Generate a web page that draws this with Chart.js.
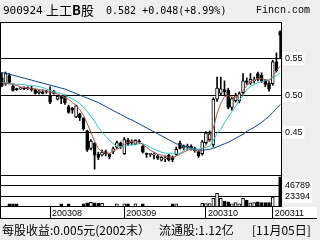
<!DOCTYPE html>
<html>
<head>
<meta charset="utf-8">
<script src="https://cdn.jsdelivr.net/npm/chart.js@4/dist/chart.umd.min.js"></script>
<style>
  html, body { margin: 0; padding: 0; width: 320px; height: 240px; overflow: hidden; background: #eeeeee; }
  #wrap { position: relative; width: 320px; height: 240px; }
  canvas { position: absolute; left: 0; top: 0; }
  .t { position: absolute; white-space: nowrap; color: #000; line-height: 1; }
</style>
</head>
<body>
<div id="wrap">
  <canvas id="chart-main" width="320" height="240"></canvas>
  <div class="t" style="left:3px;top:4px;font:11px 'DejaVu Sans Mono'">900924</div>
  <div class="t" style="left:46px;top:0px;font:13px 'Noto Sans CJK SC'">上工<b>B</b>股</div>
  <div class="t" style="left:106px;top:5px;font:10px 'DejaVu Sans Mono'">0.582 +0.048(+8.99%)</div>
  <div class="t" style="left:256px;top:5px;font:10px 'Liberation Mono'">Fincn.com</div>
  <div class="t" style="left:2px;top:221px;font:12px 'Noto Sans CJK SC'">每股收益:0.005元(2002末）</div>
  <div class="t" style="left:159px;top:221px;font:12px 'Noto Sans CJK SC'">流通股:1.12亿</div>
  <div class="t" style="left:252px;top:221px;font:12px 'Noto Sans CJK SC'">[11月05日]</div>
</div>
<script>
// daily candles, 2003-07-15 .. 2003-11-05
const opens = [0.524,0.516,0.527,0.513,0.509,0.509,0.510,0.509,0.510,0.508,
  0.504,0.505,0.506,0.500,0.503,0.495,0.499,0.500,0.485,0.483,
  0.471,0.475,0.469,0.452,0.428,0.435,0.420,0.419,0.424,0.420,
  0.424,0.430,0.435,0.421,0.439,0.436,0.434,0.438,0.431,0.421,
  0.420,0.419,0.418,0.412,0.414,0.419,0.416,0.420,0.435,0.429,
  0.430,0.431,0.428,0.424,0.421,0.436,0.440,0.433,0.495,0.503,
  0.508,0.507,0.484,0.493,0.493,0.504,0.520,0.517,0.520,0.530,
  0.528,0.520,0.517,0.516,0.546,0.587];
const highs = [0.531,0.532,0.530,0.515,0.510,0.511,0.512,0.512,0.513,0.509,
  0.507,0.508,0.507,0.512,0.507,0.500,0.500,0.501,0.487,0.484,
  0.487,0.476,0.470,0.453,0.440,0.436,0.423,0.426,0.426,0.421,
  0.430,0.438,0.437,0.443,0.442,0.440,0.440,0.440,0.433,0.422,
  0.421,0.422,0.420,0.417,0.418,0.420,0.418,0.430,0.438,0.433,
  0.434,0.433,0.430,0.425,0.439,0.451,0.452,0.497,0.525,0.525,
  0.520,0.510,0.498,0.503,0.505,0.530,0.524,0.530,0.525,0.532,
  0.531,0.522,0.519,0.548,0.558,0.588];
const lows = [0.512,0.514,0.516,0.506,0.507,0.508,0.508,0.508,0.506,0.502,
  0.502,0.502,0.503,0.489,0.502,0.494,0.489,0.488,0.476,0.476,
  0.470,0.466,0.453,0.424,0.426,0.400,0.413,0.418,0.418,0.414,
  0.421,0.428,0.428,0.420,0.432,0.433,0.433,0.435,0.422,0.416,
  0.417,0.414,0.413,0.411,0.410,0.411,0.410,0.419,0.427,0.426,
  0.427,0.426,0.423,0.416,0.419,0.434,0.438,0.430,0.492,0.501,
  0.500,0.482,0.480,0.491,0.490,0.502,0.515,0.515,0.517,0.520,
  0.518,0.512,0.506,0.514,0.532,0.550];
const closes = [0.513,0.530,0.518,0.507,0.508,0.510,0.509,0.511,0.508,0.503,
  0.506,0.503,0.505,0.491,0.506,0.499,0.496,0.490,0.477,0.480,
  0.486,0.470,0.455,0.426,0.438,0.419,0.416,0.423,0.421,0.417,
  0.428,0.436,0.432,0.440,0.434,0.438,0.439,0.437,0.423,0.420,
  0.420,0.420,0.415,0.416,0.415,0.412,0.413,0.427,0.428,0.431,
  0.430,0.428,0.425,0.418,0.437,0.449,0.448,0.495,0.510,0.509,
  0.505,0.484,0.496,0.500,0.503,0.520,0.518,0.522,0.521,0.522,
  0.520,0.515,0.509,0.546,0.534,0.582];

// moving averages as drawn
const ma5 = [0.518,0.516,0.516,0.515,0.5135,0.512,0.511,0.510,0.509,0.509,
  0.508,0.507,0.506,0.504,0.504,0.502,0.500,0.497,0.495,0.4905,
  0.4865,0.481,0.473,0.462,0.450,0.438,0.428,0.424,0.4216,0.4216,
  0.4243,0.427,0.4297,0.4338,0.4365,0.4378,0.4378,0.4365,0.4338,0.4297,
  0.4257,0.423,0.4203,0.419,0.4176,0.416,0.416,0.4176,0.4203,0.423,
  0.4257,0.4264,0.4257,0.4243,0.427,0.4324,0.4405,0.4554,0.4757,0.4892,
  0.4986,0.500,0.4973,0.4973,0.5014,0.5068,0.5135,0.519,0.5216,0.523,
  0.523,0.5216,0.520,0.5257,0.5338,0.540];
const ma10 = [0.5176,0.5176,0.5162,0.5162,0.515,0.515,0.515,0.5135,0.5135,0.5128,
  0.512,0.511,0.5088,0.5068,0.5054,0.504,0.5027,0.500,0.498,0.4953,
  0.4926,0.4892,0.4845,0.4784,0.4716,0.4649,0.4568,0.450,0.4446,0.4392,
  0.4345,0.431,0.4304,0.431,0.4324,0.4331,0.4338,0.4345,0.4345,0.4324,
  0.4297,0.427,0.425,0.423,0.4216,0.4216,0.4216,0.4216,0.4216,0.425,
  0.428,0.4277,0.427,0.427,0.4284,0.4297,0.431,0.4392,0.4486,0.454,
  0.4635,0.4703,0.4784,0.4851,0.4932,0.500,0.5081,0.5122,0.5149,0.5176,
  0.519,0.5203,0.5216,0.5243,0.527,0.531];
const ma30 = [0.5311,0.5304,0.529,0.5277,0.5264,0.525,0.5236,0.5223,0.521,0.5196,
  0.5182,0.5169,0.5155,0.5142,0.5128,0.5115,0.5101,0.5088,0.5068,0.5047,
  0.5027,0.5007,0.4986,0.4966,0.4946,0.4926,0.4905,0.4878,0.4851,0.4824,
  0.4797,0.477,0.4743,0.4716,0.4689,0.4669,0.4642,0.4615,0.4588,0.4561,
  0.4534,0.4507,0.448,0.4453,0.4426,0.4399,0.4372,0.4345,0.4331,0.4318,
  0.4304,0.4291,0.4277,0.4264,0.4257,0.4264,0.427,0.4284,0.4304,0.4324,
  0.4345,0.4365,0.4392,0.4419,0.4446,0.4473,0.4514,0.4541,0.4568,0.4601,
  0.4635,0.4676,0.4716,0.477,0.4824,0.4878];

// volume (shares)
const vol = [0,0,7000,7000,7000,0,0,0,0,0,
  0,0,0,0,0,0,7000,0,7000,0,
  0,0,7000,9000,10000,9000,8000,8000,0,0,
  0,7000,0,7000,7000,0,7000,0,7000,0,
  0,0,0,0,0,0,7000,7000,0,0,
  0,0,0,0,8000,7500,7500,19000,30000,19000,
  13000,11500,7000,9500,7000,19000,15000,9000,9500,11500,
  9500,9500,9500,22000,0,66500];

// axes
const tickIdx = [13, 33, 55, 73];
const tickText = ['200308', '200309', '200310', '200311'];
const priceTicks = [0.45, 0.50, 0.55];
const volTicks = [23394, 46789];

const cats = opens.map((_, i) => i);
const isUp = i => closes[i] >= opens[i];
const tickFont = { family: 'Liberation Sans', size: 9 };

const frame = {
  id: 'frame',
  beforeDraw(chart) {
    const { ctx, chartArea: a, scales } = chart;
    ctx.save();
    ctx.fillStyle = '#fff';
    ctx.fillRect(a.left, a.top, a.right - a.left, a.bottom - a.top);
    ctx.fillRect(a.left, a.bottom, 317 - a.left, scales.x.bottom - a.bottom);
    ctx.restore();
  },
  afterDraw(chart) {
    const { ctx, chartArea: a, scales } = chart;
    const xb = scales.x.bottom;
    const sep = Math.round(scales.y.bottom) + 0.5;
    ctx.save();
    ctx.strokeStyle = '#000';
    ctx.lineWidth = 1;
    ctx.beginPath();
    ctx.moveTo(a.left + 0.5, a.top); ctx.lineTo(a.left + 0.5, xb);
    ctx.moveTo(a.left, a.top + 0.5); ctx.lineTo(a.right, a.top + 0.5);
    ctx.moveTo(a.right - 0.5, a.top); ctx.lineTo(a.right - 0.5, a.bottom);
    ctx.moveTo(a.left, a.bottom - 0.5); ctx.lineTo(a.right, a.bottom - 0.5);
    ctx.moveTo(a.left, sep); ctx.lineTo(a.right, sep);
    ctx.moveTo(a.left, xb - 0.5); ctx.lineTo(317, xb - 0.5);
    ctx.stroke();
    ctx.restore();
  }
};

new Chart(document.getElementById('chart-main'), {
  type: 'bar',
  data: {
    labels: cats,
    datasets: [
      { type: 'line', data: ma5, borderColor: '#a85848', borderWidth: 1, pointRadius: 0, yAxisID: 'y', order: 0 },
      { type: 'line', data: ma10, borderColor: '#30c0c8', borderWidth: 1, pointRadius: 0, yAxisID: 'y', order: 0 },
      { type: 'line', data: ma30, borderColor: '#0c4088', borderWidth: 1, pointRadius: 0, yAxisID: 'y', order: 0 },
      { data: opens.map((o, i) => [o, closes[i]]), yAxisID: 'y', grouped: false, order: 1,
        backgroundColor: opens.map((o, i) => isUp(i) ? '#fff' : '#000'),
        borderColor: '#000', borderWidth: 1, borderSkipped: false, barThickness: 3, minBarLength: 1 },
      { data: lows.map((l, i) => [l, highs[i]]), yAxisID: 'y', grouped: false, order: 2,
        backgroundColor: '#000', barThickness: 1 },
      { data: vol, yAxisID: 'vol', grouped: false, order: 1,
        backgroundColor: vol.map((v, i) => isUp(i) ? '#fff' : '#000'),
        borderColor: '#000', borderWidth: 1, borderSkipped: false, barThickness: 3 }
    ]
  },
  options: {
    responsive: false, animation: false, events: [],
    layout: { padding: { top: 22, left: 0, right: 0, bottom: 21 } },
    plugins: { legend: { display: false }, tooltip: { enabled: false } },
    scales: {
      x: {
        type: 'category', offset: true,
        afterBuildTicks: s => { s.ticks = tickIdx.map(v => ({ value: v })); },
        afterFit: s => { s.height = 12; },
        grid: { drawOnChartArea: false, drawTicks: true, tickLength: 12, color: '#000', offset: false },
        border: { display: false },
        ticks: { autoSkip: false, maxRotation: 0, align: 'start', labelOffset: 2, padding: -11,
          color: '#000', font: tickFont,
          callback: v => { const k = tickIdx.indexOf(v); return k < 0 ? '' : tickText[k]; } }
      },
      y: {
        position: 'right', stack: 'main', stackWeight: 153, min: 0.392, max: 0.6,
        afterBuildTicks: s => { s.ticks = priceTicks.map(v => ({ value: v })); },
        afterFit: s => { s.width = 38; },
        grid: { color: '#000', drawTicks: false },
        border: { display: false },
        ticks: { padding: 3, color: '#000', font: tickFont, callback: v => v.toFixed(2),
          showLabelBackdrop: true, backdropColor: '#fff', backdropPadding: { x: 2, y: 1 } }
      },
      vol: {
        position: 'right', stack: 'main', stackWeight: 32, min: 0, max: 70400,
        afterBuildTicks: s => { s.ticks = volTicks.map(v => ({ value: v })); },
        afterFit: s => { s.width = 38; },
        grid: { color: '#000', drawTicks: false },
        border: { display: false },
        ticks: { padding: 3, color: '#000', font: tickFont, callback: v => String(v),
          showLabelBackdrop: true, backdropColor: '#fff', backdropPadding: { x: 2, y: 1 } }
      }
    }
  },
  plugins: [frame]
});
</script>
</body>
</html>
